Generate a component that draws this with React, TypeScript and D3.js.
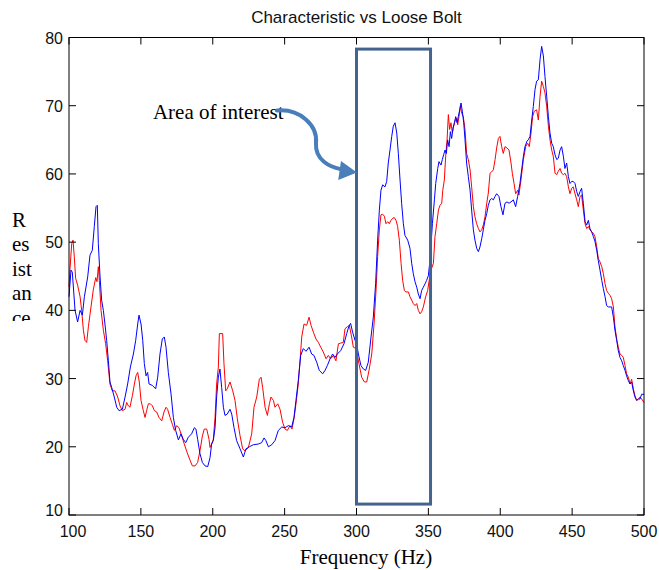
import React from 'react';
import { scaleLinear, line } from 'd3';

const width = 659;
const height = 570;
const margin = { left: 69, right: 15, top: 37.5, bottom: 55 };

const title = 'Characteristic vs Loose Bolt';
const xLabel = 'Frequency (Hz)';
const yLabelParts = ['R', 'es', 'ist', 'an', 'ce'];
const noteText = 'Area of interest';

const xTicks = [100, 150, 200, 250, 300, 350, 400, 450, 500];
const yTicks = [10, 20, 30, 40, 50, 60, 70, 80];

// [frequency Hz, resistance]
const characteristic: [number, number][] = [
  [100.0, 42.0], [101.4, 45.9], [102.3, 45.6], [104.2, 40.0], [106.0, 38.3], [107.7, 40.0],
  [109.3, 39.3], [110.7, 42.0], [113.0, 44.9], [114.6, 48.1], [116.2, 48.8], [117.6, 52.3],
  [118.8, 55.2], [119.7, 55.4], [120.4, 49.8], [121.6, 44.9], [122.7, 41.5], [123.9, 40.0],
  [125.0, 38.0], [126.2, 35.6], [127.4, 32.6], [128.5, 29.5], [129.7, 28.7], [131.5, 27.3],
  [133.2, 25.8], [134.8, 25.3], [137.1, 25.5], [139.0, 27.3], [140.8, 29.2], [142.7, 31.7],
  [144.8, 33.6], [146.4, 35.6], [147.8, 38.0], [148.7, 39.3], [150.1, 38.0], [151.3, 35.6],
  [152.4, 32.2], [153.6, 30.4], [154.7, 30.9], [155.7, 29.2], [158.0, 29.0], [160.3, 28.5],
  [161.7, 30.2], [163.3, 33.6], [164.9, 35.8], [166.3, 36.1], [167.5, 34.6], [169.1, 30.9],
  [171.0, 27.7], [172.6, 24.3], [174.2, 22.4], [176.1, 21.0], [177.9, 21.9], [179.5, 21.1],
  [181.2, 20.6], [183.0, 21.4], [185.3, 21.9], [187.2, 22.8], [188.3, 22.6], [189.5, 21.1],
  [191.1, 19.0], [192.8, 17.7], [194.6, 17.2], [196.5, 17.1], [198.1, 18.4], [199.2, 20.4],
  [200.4, 20.9], [201.6, 22.8], [202.7, 27.3], [203.9, 30.2], [205.0, 31.4], [206.2, 28.7],
  [207.4, 25.8], [208.5, 24.6], [210.1, 24.8], [212.0, 25.5], [213.2, 24.8], [214.8, 22.8],
  [216.6, 20.9], [219.0, 19.7], [221.3, 18.5], [223.1, 19.7], [225.5, 20.0], [228.2, 20.3],
  [231.7, 20.4], [234.0, 20.6], [235.7, 21.3], [237.0, 20.9], [238.7, 20.0], [241.0, 20.3],
  [243.3, 20.9], [245.6, 22.4], [248.0, 22.9], [250.3, 22.8], [252.6, 23.1], [254.9, 22.9],
  [256.5, 24.3], [257.9, 26.8], [259.5, 29.7], [261.2, 33.4], [263.0, 34.4], [264.9, 34.0],
  [267.0, 34.6], [268.8, 33.6], [270.4, 33.4], [272.3, 32.4], [274.1, 31.2], [276.5, 30.7],
  [278.1, 31.2], [279.7, 31.9], [281.6, 32.9], [283.4, 33.6], [285.0, 33.1], [286.7, 33.6],
  [289.0, 34.1], [291.3, 35.1], [293.2, 36.6], [294.6, 37.6], [295.9, 38.1], [297.3, 36.8],
  [299.0, 35.6], [300.1, 35.1], [301.3, 33.6], [303.1, 31.9], [304.8, 31.4], [306.4, 31.2],
  [308.2, 32.4], [310.1, 36.1], [311.7, 39.0], [313.3, 43.9], [314.7, 50.3], [315.9, 54.7],
  [317.0, 57.6], [318.2, 58.4], [319.8, 58.1], [321.0, 58.9], [322.1, 61.6], [323.3, 63.5],
  [324.5, 65.5], [325.6, 67.0], [326.8, 67.5], [328.0, 66.0], [329.1, 63.0], [330.3, 59.1],
  [331.4, 55.7], [332.6, 52.7], [333.7, 51.0], [335.6, 50.3], [337.2, 49.1], [338.4, 46.9],
  [339.5, 45.4], [340.7, 44.2], [341.9, 43.4], [343.0, 42.4], [344.2, 41.7], [345.3, 42.9],
  [346.5, 43.4], [347.7, 43.9], [348.8, 44.4], [350.0, 45.1], [351.1, 47.3], [352.8, 52.7],
  [354.2, 56.2], [355.1, 58.6], [356.5, 60.8], [357.4, 61.8], [358.8, 61.3], [359.7, 62.1],
  [360.6, 62.8], [361.6, 63.5], [362.5, 63.0], [363.4, 65.0], [364.4, 64.0], [365.3, 66.2],
  [366.2, 65.2], [367.1, 66.7], [368.1, 67.5], [369.0, 68.4], [370.0, 67.5], [370.8, 68.4],
  [371.8, 69.4], [372.7, 70.4], [373.6, 69.2], [374.6, 67.5], [375.5, 65.0], [376.6, 61.6],
  [377.8, 59.6], [379.0, 57.6], [380.1, 54.7], [381.3, 51.8], [382.4, 50.3], [383.6, 49.1],
  [384.8, 48.6], [385.9, 49.3], [387.1, 50.5], [388.2, 51.8], [389.4, 53.2], [390.6, 54.2],
  [391.7, 55.4], [392.9, 56.2], [394.0, 56.4], [395.2, 56.2], [396.4, 56.7], [397.5, 57.1],
  [399.1, 56.7], [400.5, 55.2], [401.9, 54.0], [403.3, 55.7], [404.7, 55.9], [406.1, 55.7],
  [407.5, 55.9], [409.1, 56.2], [410.7, 55.2], [412.1, 56.7], [413.7, 58.6], [414.9, 60.6],
  [416.1, 62.6], [417.2, 64.0], [418.6, 64.8], [419.5, 65.0], [420.7, 65.5], [421.9, 67.9],
  [423.0, 69.9], [424.2, 72.4], [425.3, 73.6], [426.5, 73.8], [427.7, 76.8], [428.8, 78.7],
  [430.0, 77.3], [431.1, 74.3], [432.3, 71.4], [433.5, 68.4], [434.6, 66.0], [435.8, 64.5],
  [436.9, 64.0], [438.1, 62.8], [439.3, 62.1], [440.4, 62.3], [441.6, 63.5], [442.7, 64.0],
  [443.9, 62.6], [445.0, 60.8], [446.2, 61.6], [447.4, 59.6], [448.5, 58.6], [449.7, 58.9],
  [450.8, 58.9], [452.0, 58.6], [453.2, 57.4], [454.3, 56.7], [455.5, 57.4], [456.6, 57.9],
  [457.8, 55.7], [459.0, 53.0], [460.1, 52.5], [461.3, 53.2], [462.4, 52.0], [463.6, 51.5],
  [464.8, 50.8], [465.9, 50.1], [467.1, 48.8], [468.2, 47.3], [469.4, 45.9], [470.6, 44.4],
  [471.7, 43.2], [472.9, 42.0], [474.0, 40.7], [475.2, 40.5], [476.4, 40.5], [477.5, 40.5],
  [478.7, 39.0], [479.8, 37.1], [481.0, 35.6], [482.1, 34.1], [483.3, 33.1], [484.5, 32.6],
  [485.6, 31.9], [486.8, 31.2], [487.9, 30.4], [489.1, 29.7], [490.3, 29.2], [491.4, 29.5],
  [492.6, 28.2], [493.7, 27.3], [494.9, 26.8], [496.1, 27.0], [497.2, 27.0], [498.4, 27.7],
  [500.0, 27.7],
];

const looseBolt: [number, number][] = [
  [100.0, 43.4], [100.7, 46.1], [101.9, 49.8], [102.8, 50.3], [103.7, 47.8], [104.6, 44.7],
  [106.0, 43.7], [107.7, 42.0], [108.8, 40.0], [110.0, 37.1], [111.1, 35.6], [112.3, 35.3],
  [113.5, 37.6], [115.3, 40.5], [116.9, 43.0], [118.6, 44.8], [119.5, 44.2], [120.4, 46.4],
  [121.1, 44.4], [122.3, 40.0], [123.9, 37.1], [125.5, 35.1], [126.9, 32.6], [128.5, 29.2],
  [130.1, 28.2], [132.0, 28.2], [133.9, 27.3], [135.5, 26.0], [137.1, 25.3], [139.0, 25.5],
  [140.1, 26.5], [141.3, 26.0], [142.4, 25.8], [144.1, 27.5], [145.5, 29.2], [146.6, 30.4],
  [147.8, 30.9], [148.9, 29.5], [150.1, 26.8], [151.7, 25.3], [152.9, 24.3], [154.0, 25.3],
  [155.2, 26.3], [156.6, 26.3], [158.0, 26.0], [159.4, 25.3], [161.0, 25.1], [162.6, 24.3],
  [164.5, 23.8], [166.1, 25.1], [167.5, 25.8], [168.6, 25.5], [170.3, 24.3], [171.9, 23.3],
  [173.3, 22.4], [174.9, 23.1], [176.5, 22.8], [178.4, 21.6], [180.2, 20.4], [182.1, 19.2],
  [183.9, 18.2], [185.8, 17.2], [187.7, 17.2], [189.5, 17.7], [191.1, 19.4], [192.8, 21.6],
  [194.1, 22.6], [195.8, 22.6], [197.4, 21.1], [198.1, 19.9], [199.2, 20.4], [200.4, 21.1],
  [201.6, 24.3], [202.7, 29.2], [203.9, 31.7], [204.6, 36.6], [205.7, 36.6], [206.9, 36.6],
  [207.8, 32.2], [209.0, 28.2], [210.1, 28.5], [212.0, 29.5], [213.9, 28.2], [215.5, 26.8],
  [217.1, 24.1], [219.0, 21.6], [220.8, 19.7], [222.4, 19.4], [224.8, 19.9], [227.1, 21.9],
  [228.7, 25.8], [230.6, 27.3], [232.4, 29.9], [233.6, 30.2], [234.7, 28.7], [236.4, 25.8],
  [238.0, 24.6], [239.4, 26.3], [240.5, 27.3], [242.2, 26.8], [243.3, 25.8], [245.2, 26.3],
  [246.8, 25.5], [248.6, 23.6], [250.3, 22.6], [251.9, 22.4], [253.7, 23.1], [255.1, 22.6],
  [256.5, 24.1], [257.9, 26.3], [259.5, 29.2], [260.7, 32.6], [261.9, 36.1], [263.5, 38.0],
  [265.3, 37.8], [267.0, 39.0], [268.4, 37.8], [270.0, 36.8], [271.8, 35.8], [273.5, 35.3],
  [275.1, 34.6], [276.9, 33.9], [278.8, 32.9], [280.4, 33.4], [282.0, 32.9], [283.9, 33.4],
  [285.7, 32.6], [287.4, 35.1], [289.0, 35.2], [290.8, 35.3], [292.0, 37.3], [293.6, 37.6],
  [295.0, 37.8], [296.6, 36.1], [297.8, 34.6], [299.7, 34.4], [301.7, 32.2], [303.6, 30.2],
  [305.5, 29.5], [307.1, 29.5], [308.7, 31.2], [310.6, 33.6], [312.2, 38.0], [313.6, 43.0],
  [314.7, 47.9], [315.9, 51.8], [317.0, 54.0], [318.2, 54.1], [319.4, 53.8], [320.5, 52.7],
  [321.7, 53.0], [322.8, 52.7], [324.0, 53.2], [325.2, 53.5], [326.3, 53.6], [327.5, 53.2],
  [328.6, 52.3], [329.8, 50.3], [331.0, 46.9], [332.1, 44.4], [333.3, 42.9], [334.4, 42.7],
  [336.1, 42.7], [337.2, 42.0], [338.4, 41.5], [339.5, 41.0], [340.7, 40.7], [341.9, 41.0],
  [343.0, 40.0], [344.2, 39.5], [345.3, 39.8], [346.5, 40.5], [348.1, 42.0], [349.5, 42.9],
  [350.4, 44.2], [351.8, 45.9], [353.5, 46.9], [354.6, 50.8], [355.8, 52.7], [357.0, 54.7],
  [358.1, 55.4], [359.3, 55.7], [360.0, 57.6], [361.1, 59.1], [362.0, 62.5], [363.0, 65.0],
  [363.9, 68.7], [364.8, 66.5], [365.7, 67.5], [366.7, 66.0], [367.6, 67.0], [368.5, 67.7],
  [369.5, 68.2], [370.4, 67.2], [371.3, 68.4], [372.2, 69.9], [373.2, 68.9], [374.3, 68.4],
  [375.5, 66.5], [376.6, 63.0], [377.8, 62.1], [379.0, 60.6], [380.1, 58.1], [381.3, 55.2],
  [382.4, 53.7], [383.6, 52.7], [384.8, 52.0], [385.9, 51.5], [387.1, 51.8], [388.2, 52.5],
  [389.4, 53.7], [390.6, 55.7], [391.7, 57.2], [392.9, 60.1], [394.0, 60.3], [395.2, 60.6],
  [396.4, 62.1], [397.5, 63.8], [398.7, 65.2], [399.8, 65.5], [401.0, 64.0], [402.1, 63.0],
  [403.3, 64.0], [404.7, 63.8], [406.1, 63.5], [407.5, 61.6], [408.4, 60.1], [409.6, 58.6],
  [410.7, 57.1], [412.1, 57.6], [413.0, 56.9], [414.4, 59.1], [416.1, 62.1], [417.7, 64.0],
  [419.1, 64.5], [420.2, 64.0], [421.4, 66.0], [422.5, 68.4], [423.7, 69.2], [425.3, 69.4],
  [426.5, 67.9], [427.7, 71.4], [428.8, 73.6], [430.0, 72.8], [431.1, 71.9], [432.3, 69.9],
  [433.5, 67.0], [434.6, 65.0], [435.8, 63.5], [436.9, 62.6], [438.1, 60.1], [439.3, 59.9],
  [440.4, 60.4], [441.6, 60.8], [442.7, 60.1], [443.9, 59.9], [445.0, 60.1], [446.2, 59.6],
  [447.4, 58.1], [448.5, 57.1], [449.7, 57.9], [450.8, 58.1], [452.0, 57.1], [453.2, 56.2],
  [454.3, 55.2], [455.5, 56.7], [456.6, 56.9], [457.8, 54.7], [459.0, 52.7], [460.1, 52.0],
  [461.3, 52.3], [462.4, 51.8], [463.6, 51.5], [464.8, 51.3], [465.9, 50.8], [467.1, 49.3],
  [468.2, 47.6], [469.4, 47.1], [470.6, 46.4], [471.7, 45.4], [472.9, 43.9], [474.0, 42.9],
  [475.2, 42.5], [476.4, 42.2], [477.5, 41.7], [478.7, 40.5], [479.8, 37.6], [481.0, 35.8],
  [482.1, 34.6], [483.3, 33.6], [484.5, 33.4], [485.6, 33.1], [486.8, 31.9], [487.9, 30.7],
  [489.1, 30.2], [490.3, 29.2], [491.4, 29.9], [492.6, 28.5], [493.7, 27.5], [494.9, 26.8],
  [496.1, 27.0], [497.2, 27.3], [498.4, 27.0], [500.0, 26.5],
];

// highlighted window, in data units: [f0, f1, v0, v1]
const highlightBox = [300, 351.5, 11.6, 78.3];
// annotation anchor and curved arrow, in data units
const notePos: [number, number] = [158.4, 68.1];
const arrowPath: [number, number][] = [
  [244.7, 69.3], [260.7, 69.6], [273.2, 67.1], [271.8, 64.5],
  [271.1, 62.0], [281.6, 61.0], [289.0, 60.7],
];
const arrowHead: [number, number][] = [[300.3, 60.2], [289.2, 61.9], [287.3, 59.1]];

const sans = 'Arial, "Liberation Sans", sans-serif';
const serif = '"Times New Roman", "Liberation Serif", serif';

const App = () => {
  const x = scaleLinear().domain([100, 500]).range([margin.left, width - margin.right]);
  const y = scaleLinear().domain([10, 80]).range([height - margin.bottom, margin.top]);

  const lineGen = line<[number, number]>()
    .x(d => x(d[0]))
    .y(d => y(d[1]));

  const [x0, x1] = x.range();
  const [y0, y1] = y.range();
  const tickLen = 7;

  const p = (d: [number, number]) => [x(d[0]), y(d[1])];
  const a = arrowPath.map(p);
  const arrowD = `M${a[0]} C${a[1]} ${a[2]} ${a[3]} C${a[4]} ${a[5]} ${a[6]}`;
  const headD = 'M' + arrowHead.map(p).map(q => q.join(',')).join('L') + 'Z';

  return (
    <svg
      width={width}
      height={height}
      style={{ position: 'absolute', left: 0, top: 0, background: '#fff' }}
    >
      <defs>
        <clipPath id="ylab-clip">
          <rect x={0} y={0} width={60} height={321} />
        </clipPath>
      </defs>

      <text x={(x0 + x1) / 2} y={23} textAnchor="middle" fontFamily={sans} fontSize={17} fill="#111">
        {title}
      </text>

      {/* data */}
      <path d={lineGen(looseBolt) || ''} fill="none" stroke="#ff0000" strokeWidth={1} />
      <path d={lineGen(characteristic) || ''} fill="none" stroke="#0000ff" strokeWidth={1} />

      {/* axes box */}
      <rect x={x0} y={y1} width={x1 - x0} height={y0 - y1} fill="none" stroke="#000" strokeWidth={1} />
      {xTicks.map(t => (
        <g key={'x' + t}>
          <line x1={x(t)} x2={x(t)} y1={y0} y2={y0 - tickLen} stroke="#000" />
          <line x1={x(t)} x2={x(t)} y1={y1} y2={y1 + tickLen} stroke="#000" />
          <text x={x(t) + (t === 100 ? 4 : 0)} y={y0 + 22} textAnchor="middle" fontFamily={sans} fontSize={16} fill="#111">
            {t}
          </text>
        </g>
      ))}
      {yTicks.map(t => (
        <g key={'y' + t}>
          <line x1={x0} x2={x0 + tickLen} y1={y(t)} y2={y(t)} stroke="#000" />
          <line x1={x1} x2={x1 - tickLen} y1={y(t)} y2={y(t)} stroke="#000" />
          <text x={x0 - 6} y={y(t) + (t === 10 ? 1 : 6)} textAnchor="end" fontFamily={sans} fontSize={16} fill="#111">
            {t}
          </text>
        </g>
      ))}

      {/* highlight window */}
      <rect
        x={x(highlightBox[0])}
        y={y(highlightBox[3])}
        width={x(highlightBox[1]) - x(highlightBox[0])}
        height={y(highlightBox[2]) - y(highlightBox[3])}
        fill="none"
        stroke="#44648f"
        strokeWidth={3}
      />

      {/* annotation */}
      <text x={x(notePos[0])} y={y(notePos[1])} fontFamily={serif} fontSize={21} fill="#000">
        {noteText}
      </text>
      <path d={arrowD} fill="none" stroke="#4a7ebb" strokeWidth={4} strokeLinecap="round" />
      <path d={headD} fill="#4a7ebb" stroke="none" />

      {/* labels */}
      <text x={366} y={564} textAnchor="middle" fontFamily={serif} fontSize={21} fill="#000">
        {xLabel}
      </text>
      <g clipPath="url(#ylab-clip)">
        {yLabelParts.map((s, i) => (
          <text key={s} x={12} y={227 + i * 24.4} fontFamily={serif} fontSize={21} fill="#000">
            {s}
          </text>
        ))}
      </g>
    </svg>
  );
};

export default App;
